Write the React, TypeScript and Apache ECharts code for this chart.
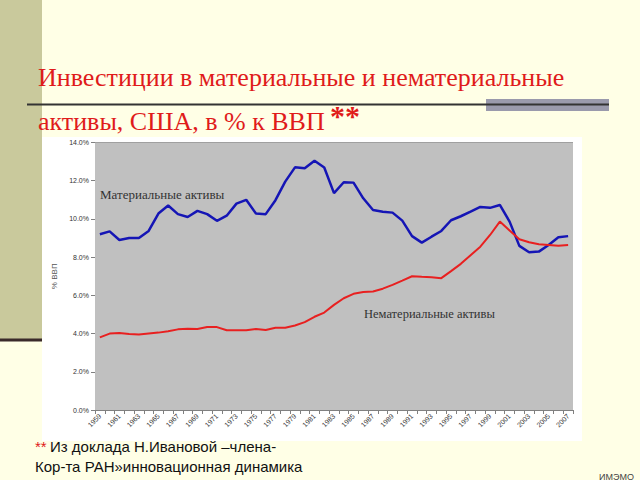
import React, { useEffect, useRef } from "react";
import * as echarts from "echarts";

const years = [
  "1959", "1960", "1961", "1962", "1963", "1964", "1965", "1966", "1967", "1968",
  "1969", "1970", "1971", "1972", "1973", "1974", "1975", "1976", "1977", "1978",
  "1979", "1980", "1981", "1982", "1983", "1984", "1985", "1986", "1987", "1988",
  "1989", "1990", "1991", "1992", "1993", "1994", "1995", "1996", "1997", "1998",
  "1999", "2000", "2001", "2002", "2003", "2004", "2005", "2006", "2007",
];

const tangible = [
  9.2, 9.35, 8.9, 9.0, 9.0, 9.37, 10.28, 10.7, 10.25, 10.1,
  10.42, 10.25, 9.9, 10.17, 10.8, 11.0, 10.28, 10.25, 10.98, 11.95,
  12.7, 12.65, 13.04, 12.69, 11.35, 11.92, 11.9, 11.08, 10.47, 10.38,
  10.33, 9.91, 9.1, 8.76, 9.07, 9.37, 9.93, 10.14, 10.38, 10.63,
  10.58, 10.73, 9.86, 8.59, 8.26, 8.29, 8.64, 9.04, 9.1,
];

const intangible = [
  3.8, 4.0, 4.03, 3.98, 3.95, 4.0, 4.05, 4.12, 4.22, 4.25,
  4.24, 4.34, 4.34, 4.17, 4.17, 4.18, 4.24, 4.19, 4.3, 4.3,
  4.42, 4.6, 4.88, 5.1, 5.5, 5.85, 6.08, 6.17, 6.2, 6.35,
  6.55, 6.77, 7.0, 6.97, 6.95, 6.9, 7.27, 7.65, 8.1, 8.55,
  9.16, 9.86, 9.39, 8.94, 8.78, 8.67, 8.64, 8.6, 8.64,
];

const titleLine1 = "Инвестиции в материальные и нематериальные";
const titleLine2 = "активы, США, в % к ВВП";
const tangibleLabel = "Материальные активы";
const intangibleLabel = "Нематериальные активы";
const yAxisName = "% ВВП";
const footLine1 = "Из доклада Н.Ивановой –члена-";
const footLine2 = "Кор-та РАН»инновационная динамика";
const corner = "ИМЭМО";

export default function App() {
  const ref = useRef<HTMLDivElement>(null);
  useEffect(() => {
    if (!ref.current) return;
    const chart = echarts.init(ref.current, null, { renderer: "svg" });
    const serif = "'Liberation Serif', 'Times New Roman', serif";
    const sans = "'Liberation Sans', Arial, sans-serif";
    chart.setOption({
      animation: false,
      backgroundColor: "#FFFFE6",
      textStyle: { fontFamily: sans },
      grid: {
        left: 95,
        right: 67,
        top: 142.5,
        bottom: 70,
        show: true,
        backgroundColor: "#C0C0C0",
        borderWidth: 0,
        z: 1,
      },
      xAxis: {
        type: "category",
        data: years,
        boundaryGap: true,
        axisLine: { show: true, lineStyle: { color: "#808080", width: 1 } },
        axisTick: { show: true, interval: 0, length: 4, lineStyle: { color: "#808080" } },
        axisLabel: {
          interval: 1,
          rotate: 45,
          fontSize: 7,
          color: "#333",
          fontFamily: sans,
          margin: 5,
        },
      },
      yAxis: {
        type: "value",
        min: 0,
        max: 14,
        interval: 2,
        name: yAxisName,
        nameLocation: "middle",
        nameGap: 30,
        nameTextStyle: { fontSize: 8, color: "#555", fontFamily: sans },
        axisLine: { show: true, lineStyle: { color: "#808080", width: 1 } },
        axisTick: { show: true, length: 4, lineStyle: { color: "#808080" } },
        axisLabel: {
          fontSize: 7,
          color: "#333",
          fontFamily: sans,
          margin: 6,
          formatter: (v: number) => v.toFixed(1) + "%",
        },
        splitLine: { show: true, lineStyle: { color: "#808080", width: 1 } },
      },
      series: [
        {
          type: "line",
          data: tangible,
          symbol: "none",
          lineStyle: { color: "#1515B5", width: 2.5 },
          z: 3,
        },
        {
          type: "line",
          data: intangible,
          symbol: "none",
          lineStyle: { color: "#E82020", width: 2 },
          z: 3,
        },
      ],
      graphic: [
        { type: "rect", z: -10, shape: { x: 0, y: 0, width: 42, height: 340 }, style: { fill: "#C9C99C" } },
        { type: "line", z: -9, shape: { x1: 0, y1: 340, x2: 42, y2: 340 }, style: { stroke: "#3A2A2A", lineWidth: 3 } },
        { type: "rect", z: -8, shape: { x: 42, y: 137, width: 540, height: 304 }, style: { fill: "#FFFFFF" } },
        { type: "rect", z: -8, shape: { x: 486, y: 99, width: 123, height: 12 }, style: { fill: "#9A9AAC" } },
        { type: "line", z: -7, shape: { x1: 27, y1: 104.5, x2: 609, y2: 104.5 }, style: { stroke: "#333333", lineWidth: 2 } },
        {
          type: "text", left: 38, top: 64,
          style: { text: titleLine1, font: `26px ${serif}`, fill: "#E01B1B" },
        },
        {
          type: "text", left: 38, top: 108,
          style: { text: titleLine2, font: `26px ${serif}`, fill: "#E01B1B" },
        },
        {
          type: "text", left: 330, top: 100,
          style: { text: "**", font: `bold 30px ${serif}`, fill: "#E01B1B" },
        },
        {
          type: "text", left: 100, top: 188, z: 10,
          style: { text: tangibleLabel, font: `13px ${serif}`, fill: "#333333" },
        },
        {
          type: "text", left: 364, top: 307, z: 10,
          style: { text: intangibleLabel, font: `12.5px ${serif}`, fill: "#333333" },
        },
        {
          type: "text", left: 35, top: 439,
          style: {
            text: "{r|**} {b|" + footLine1 + "}",
            rich: {
              r: { fontSize: 15, fontFamily: sans, fill: "#E01B1B", color: "#E01B1B" },
              b: { fontSize: 15, fontFamily: sans, fill: "#111111", color: "#111111" },
            },
          },
        },
        {
          type: "text", left: 35, top: 459,
          style: { text: footLine2, font: `15px ${sans}`, fill: "#111111" },
        },
        {
          type: "text", left: 599, top: 472,
          style: { text: corner, font: `9px ${sans}`, fill: "#444444" },
        },
      ],
    });
    return () => chart.dispose();
  }, []);
  return (
    <div
      ref={ref}
      style={{ position: "fixed", left: 0, top: 0, width: 640, height: 480 }}
    />
  );
}
